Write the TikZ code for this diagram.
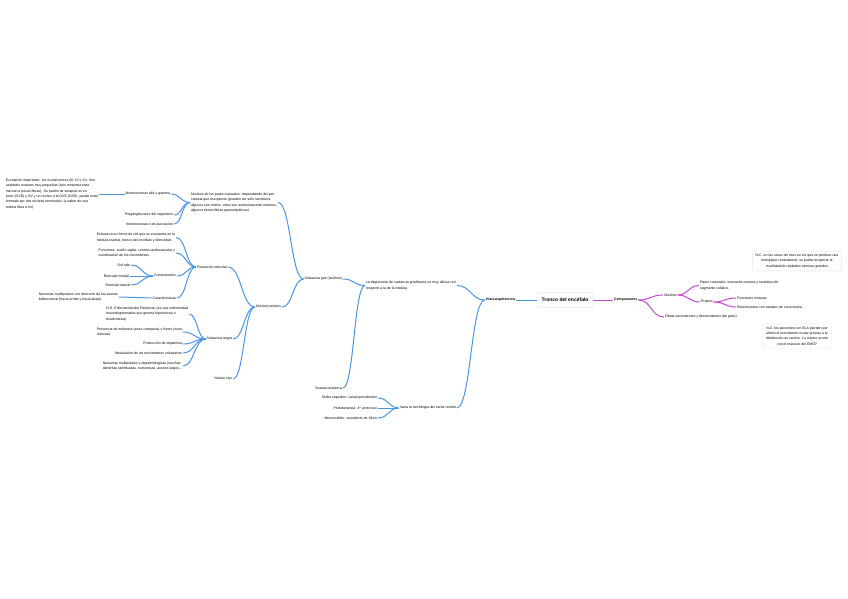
\documentclass[tikz,border=0pt]{standalone}
\usepackage{fontspec}
\setmainfont{Liberation Sans}
\usetikzlibrary{calc}
\definecolor{bluel}{RGB}{74,150,230}
\definecolor{magl}{RGB}{200,70,210}
\newcommand\fsz{\fontsize{3.5}{5.3}\selectfont}
\begin{document}
\begin{tikzpicture}[x=1pt,y=-1pt,
  t/.style={font=\fsz, inner sep=0.8pt, text=black},
  tl/.style={t, align=left},
  bl/.style={draw=bluel, line width=1pt},
  mg/.style={draw=magl, line width=1pt},
  br/.style={to path={let \p1=(\tikztostart), \p2=(\tikztotarget) in
     .. controls (\x1/2+\x2/2,\y1) and (\x1/2+\x2/2,\y2) .. (\tikztotarget)}},
  notebox/.style={t, align=center, draw=black!10, rounded corners=2pt, inner sep=3pt, fill=white}]
\fill[white] (0,0) rectangle (848,599);
\useasboundingbox (0,0) rectangle (848,599);

% root
\node[draw=black!15, rounded corners=2pt, fill=white, font=\fontsize{5}{6}\selectfont\bfseries, text=black,
  minimum width=56pt, minimum height=15pt, inner sep=1pt] (tronco) at (565,300) {Tronco del encéfalo};

% left main branch
\node[t, font=\fsz\bfseries, anchor=east] (histo) at (516,300) {Histoarquitectura};
\node[tl, anchor=west] (disp) at (365,285.5) {La disposición de sustancia gris/blanca es muy difusa con\\respecto a la de la médula};
\node[t, anchor=west] (varia) at (399,408) {Varía la morfología del canal central};
\node[t, anchor=east] (bulbo) at (378,398) {Bulbo raquídeo: canal ependimario};
\node[t, anchor=east] (prot) at (378,408) {Protuberancia: 4º ventrículo};
\node[t, anchor=east] (mesen) at (378,418) {Mesencéfalo: acueducto de Silvio};
\node[t, anchor=east] (sgris) at (343,279) {Sustancia gris (núcleos)};
\node[t, anchor=east] (sblanca) at (343,388) {Sustancia blanca};

\node[tl, anchor=west] (npares) at (190,202.5) {Núcleos de los pares craneales: dependiendo del par\\craneal que escojamos (pueden ser sólo sensitivos,\\algunos son mixtos, otros son exclusivamente motores,\\algunos tienen fibras parasimpáticas)};
\node[t, anchor=east] (motoneur) at (171,194) {Motoneuronas alfa y gamma};
\node[t, anchor=east] (pregang) at (174,215) {Preganglionares del vegetativo};
\node[t, anchor=east] (inter) at (174,224) {Interneuronas o de asociación};
\node[tl, anchor=east] (note1) at (99,194) {Excepción importante: los oculomotores (III, IV y VI). Son\\unidades motoras muy pequeñas (seis motoneuronas\\inervan a pocas fibras). Su patrón de sinapsis es en\\poso (GSE) y GV y un núcleo a la GVE (GSE), puede estar\\formado por dos núcleos terminales, (a saber de una\\misma fibra a mí)};

\node[t, anchor=west] (npropios) at (255,307) {Núcleos propios};
\node[t, anchor=east] (freticular) at (228,267) {Formación reticular};
\node[tl, anchor=east] (estructura) at (176,237.5) {Estructura en forma de red que se encuentra en la\\médula espinal, tronco del encéfalo y diencéfalo};
\node[tl, anchor=east] (funciones) at (176,253) {Funciones: sueño-vigilia, control cardiovascular y\\coordinación de los movimientos};
\node[t, anchor=east] (comp1) at (177,276) {Componentes};
\node[t, anchor=east] (rafe) at (131,265) {Del rafe};
\node[t, anchor=east] (rmedial) at (130,276) {Reticular medial};
\node[t, anchor=east] (rlateral) at (131,285) {Reticular lateral};
\node[t, anchor=east] (caract) at (177,298) {Características};
\node[tl, anchor=east] (neurmulti) at (119,297) {Neuronas multipolares con dirección de los axones\\bidireccional (hacia arriba y hacia abajo)};

\node[t, anchor=east] (snegra) at (233,339) {Sustancia negra};
\node[tl, anchor=east] (nd) at (189,314) {N.D: Enfermedad del Parkinson (es una enfermedad\\neurodegenerativa que genera hipocinesia o\\bradicinesia)};
\node[tl, anchor=east] (presencia) at (183,332) {Presencia de melanina (zona compacta) y hierro (zona\\reticular)};
\node[t, anchor=east] (produccion) at (183,344) {Producción de dopamina};
\node[t, anchor=east] (modulacion) at (183,353) {Modulación de los movimientos voluntarios};
\node[tl, anchor=east] (neurodop) at (183,366) {Neuronas multipolares y dopaminérgicas (muchas\\dendritas ramificadas, numerosas, axones largos...};
\node[t, anchor=east] (nrojo) at (233,379) {Núcleo rojo};

% right branch
\node[t, font=\fsz\bfseries, anchor=west] (compR) at (613,300) {Componentes};
\node[t, anchor=west] (nucleosR) at (663,295) {Núcleos};
\node[t, anchor=west] (fibras) at (664,317) {Fibras ascendentes y descendentes (de paso)};
\node[tl, anchor=west] (pares) at (699,285.5) {Pares craneales: inervación motora y sensitiva del\\segmento cefálico.};
\node[t, anchor=west] (propiosR) at (700,302) {Propios};
\node[t, anchor=west] (fmotoras) at (736,298) {Funciones motoras};
\node[t, anchor=west] (relac) at (736,307) {Relacionados con estados de consciencia};

\node[notebox] (note2) at (797,261) {N.C: en los casos de ictus en los que se produce una\\hemiplejia contralateral, se podrá recuperar la\\movilidad de unidades motoras grandes};
\node[notebox] (note3) at (797,336) {N.C: los pacientes con ELA pierden por\\último el movimiento ocular gracias a la\\distribución en racimo. Lo mismo ocurre\\con el músculo del EMO?};

% blue connectors
\draw[bl] (histo.east) -- (tronco.west);
\draw[bl] (histo.west) to[br] (disp.east);
\draw[bl] (histo.west) to[br] (varia.east);
\draw[bl] (disp.west) to[br] (sgris.east);
\draw[bl] (disp.west) to[br] (sblanca.east);
\foreach \c in {bulbo,prot,mesen} \draw[bl] (varia.west) to[br] (\c.east);
\draw[bl] (sgris.west) to[br] (npares.east);
\draw[bl] (sgris.west) to[br] (npropios.east);
\foreach \c in {motoneur,pregang,inter} \draw[bl] (npares.west) to[br] (\c.east);
\draw[bl] (motoneur.west) -- (note1.east);
\foreach \c in {freticular,snegra,nrojo} \draw[bl] (npropios.west) to[br] (\c.east);
\foreach \c in {estructura,funciones,comp1,caract} \draw[bl] (freticular.west) to[br] (\c.east);
\foreach \c in {rafe,rmedial,rlateral} \draw[bl] (comp1.west) to[br] (\c.east);
\draw[bl] (caract.west) -- (neurmulti.east);
\foreach \c in {nd,presencia,produccion,modulacion,neurodop} \draw[bl] (snegra.west) to[br] (\c.east);

% magenta connectors
\draw[mg] (tronco.east) -- (compR.west);
\draw[mg] (compR.east) to[br] (nucleosR.west);
\draw[mg] (compR.east) to[br] (fibras.west);
\draw[mg] (nucleosR.east) to[br] (pares.west);
\draw[mg] (nucleosR.east) to[br] (propiosR.west);
\draw[mg] (propiosR.east) to[br] (fmotoras.west);
\draw[mg] (propiosR.east) to[br] (relac.west);
\end{tikzpicture}
\end{document}
